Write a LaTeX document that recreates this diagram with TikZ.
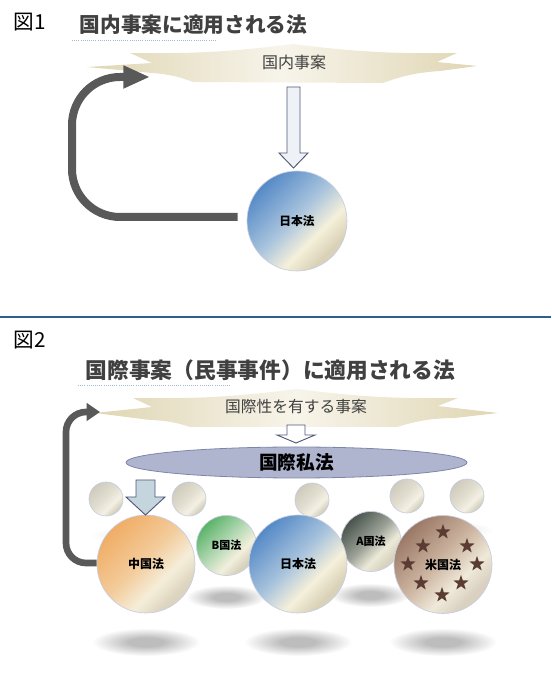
\documentclass[tikz,border=0pt]{standalone}
\usepackage{fontspec}
\setmainfont{Noto Sans CJK JP}
\usetikzlibrary{arrows.meta,shapes.geometric}

\definecolor{arrowgray}{HTML}{595959}
\definecolor{titlegray}{HTML}{404040}
\definecolor{rulecol}{HTML}{2D5F8F}
\definecolor{dotcol}{HTML}{A5B8CF}
\definecolor{bannerEdge}{HTML}{E0D6B4}
\definecolor{bannerMid}{HTML}{F7F4EA}
\definecolor{blockline}{HTML}{505878}
\definecolor{blockfill}{HTML}{EEF1F6}
\definecolor{blockblue}{HTML}{C5D5DE}
\definecolor{ballrim}{HTML}{C7CDE0}
\definecolor{starbrown}{HTML}{5A3C32}
\definecolor{lawrim}{HTML}{7D86AA}
\definecolor{shd}{HTML}{BDBDBD}
\definecolor{shdlight}{HTML}{EDEDED}

\definecolor{jpA}{HTML}{4A82C4}\definecolor{jpB}{HTML}{A9C4DD}
\definecolor{jpC}{HTML}{F5F0DA}\definecolor{jpD}{HTML}{DAD2B8}
\definecolor{cnA}{HTML}{F0A95E}\definecolor{cnB}{HTML}{F3CC9C}
\definecolor{cnC}{HTML}{F5EEDA}\definecolor{cnD}{HTML}{DCD4BE}
\definecolor{bbA}{HTML}{4FAE5F}\definecolor{bbB}{HTML}{B6DAB6}
\definecolor{bbC}{HTML}{F2EFDC}\definecolor{bbD}{HTML}{D8D2BC}
\definecolor{aaA}{HTML}{3F4A44}\definecolor{aaB}{HTML}{9AA095}
\definecolor{aaC}{HTML}{ECE9D8}\definecolor{aaD}{HTML}{D8D2BE}
\definecolor{usA}{HTML}{94705E}\definecolor{usB}{HTML}{CDB6A2}
\definecolor{usC}{HTML}{EFE9D9}\definecolor{usD}{HTML}{D9D0BF}
\definecolor{plA}{HTML}{CCC8BA}\definecolor{plB}{HTML}{E2DED0}
\definecolor{plC}{HTML}{F4F1E4}\definecolor{plD}{HTML}{D6D1BE}
\definecolor{lwA}{HTML}{969CBE}\definecolor{lwB}{HTML}{B0B5CF}
\definecolor{lwC}{HTML}{EDEFF6}\definecolor{lwD}{HTML}{A0A6C4}

\pgfdeclarehorizontalshading{japanball}{100bp}{color(0bp)=(jpA); color(22bp)=(jpA); color(48bp)=(jpB); color(62bp)=(jpC); color(72bp)=(jpD); color(100bp)=(jpD)}
\pgfdeclarehorizontalshading{chinaball}{100bp}{color(0bp)=(cnA); color(22bp)=(cnA); color(48bp)=(cnB); color(62bp)=(cnC); color(72bp)=(cnD); color(100bp)=(cnD)}
\pgfdeclarehorizontalshading{bball}{100bp}{color(0bp)=(bbA); color(22bp)=(bbA); color(48bp)=(bbB); color(62bp)=(bbC); color(72bp)=(bbD); color(100bp)=(bbD)}
\pgfdeclarehorizontalshading{aball}{100bp}{color(0bp)=(aaA); color(22bp)=(aaA); color(48bp)=(aaB); color(62bp)=(aaC); color(72bp)=(aaD); color(100bp)=(aaD)}
\pgfdeclarehorizontalshading{usball}{100bp}{color(0bp)=(usA); color(22bp)=(usA); color(48bp)=(usB); color(62bp)=(usC); color(72bp)=(usD); color(100bp)=(usD)}
\pgfdeclarehorizontalshading{paleball}{100bp}{color(0bp)=(plA); color(22bp)=(plA); color(48bp)=(plB); color(62bp)=(plC); color(72bp)=(plD); color(100bp)=(plD)}
\pgfdeclareverticalshading{lawdisc}{100bp}{color(0bp)=(lwD); color(25bp)=(lwB); color(78bp)=(lwB); color(85bp)=(lwC); color(90bp)=(lwB); color(100bp)=(lwA)}
\pgfdeclareradialshading{blurshadow}{\pgfpoint{0bp}{0bp}}{color(0bp)=(shd); color(8bp)=(shd); color(25bp)=(white); color(50bp)=(white)}
\pgfdeclareradialshading{blurlight}{\pgfpoint{0bp}{0bp}}{color(0bp)=(shdlight); color(8bp)=(shdlight); color(25bp)=(white); color(50bp)=(white)}

\tikzset{
  ball/.style={circle, draw=ballrim, line width=0.5pt, inner sep=0pt, shade, shading=#1, shading angle=-45, font=\bfseries\fontsize{9}{10}\selectfont},
  bigarrow/.style={draw=arrowgray, line width=6pt, rounded corners=36pt, -{Triangle[length=20pt,width=16pt]}},
  midarrow/.style={draw=arrowgray, line width=5pt, rounded corners=15pt, -{Triangle[length=10pt,width=13pt]}},
  blockarrow/.style={draw=blockline, line width=0.7pt, line join=miter},
  banner/.style={shade, left color=bannerEdge, right color=bannerEdge, middle color=bannerMid},
  fignum/.style={anchor=west, font=\fontsize{15.5}{18}\selectfont},
  heading/.style={anchor=west, text=titlegray, font=\bfseries\fontsize{15.5}{18}\selectfont},
  casetext/.style={text=titlegray, font=\fontsize{12}{14}\selectfont},
  starmark/.style={star, star points=5, star point ratio=2.5, minimum size=12pt, inner sep=0pt, fill=starbrown}
}

\begin{document}
\begin{tikzpicture}[x=0.75pt,y=0.75pt]
  \useasboundingbox (0,0) rectangle (551,689);

  \node[fignum] (fig1) at (9,667) {図1};
  \node[heading] (head1) at (75,664) {国内事案に適用される法};
  \draw[dotcol, densely dotted, line width=0.6pt] (72,649) -- (215,649);

  \path[banner] (87,622) -- (152,626) -- (130,636) to[bend right=4] (293,645)
    to[bend right=4] (457,636) -- (437,627) -- (477,623) -- (440,618)
    to[bend right=8] (383,606) -- (193,607) to[bend right=8] (152,616) -- cycle;
  \node[casetext] (case1) at (294,627) {国内事案};

  \draw[blockarrow, fill=blockfill] (287,602) -- (300,602) -- (300,536) -- (308,536)
    -- (293.5,521) -- (279,536) -- (287,536) -- cycle;

  \node[ball=japanball, minimum size=75pt, font=\bfseries\fontsize{8.8}{10}\selectfont] (jpa) at (297,468) {日本法};

  \coordinate (bend1) at (72,612);
  \coordinate (tip1) at (150,612);
  \draw[bigarrow] ([xshift=-6.75pt,yshift=3pt]jpa.west) -| (bend1) -- (tip1);

  \draw[rulecol, line width=1.5pt] (0,372) -- (551,372);

  \node[fignum] (fig2) at (9,349) {図2};
  \node[heading, font=\bfseries\fontsize{16.3}{19}\selectfont] (head2) at (81,319) {国際事案（民事事件）に適用される法};
  \draw[dotcol, densely dotted, line width=0.6pt] (78,304) -- (230,304);

  \path[banner] (95,276) -- (152,282) -- (133,291) to[bend right=4] (297,300)
    to[bend right=4] (458,291) -- (438,283) -- (498,276) -- (455,271)
    to[bend right=8] (397,262) -- (190,262) to[bend right=8] (150,269) -- cycle;
  \node[casetext, font=\fontsize{11.8}{14}\selectfont] (case2) at (296,282) {国際性を有する事案};

  \draw[blockarrow, fill=white] (287,264) -- (305,264) -- (305,254) -- (315,254)
    -- (296,246) -- (277,254) -- (287,254) -- cycle;

  \node[ellipse, draw=lawrim, line width=0.6pt, shade, shading=lawdisc, minimum width=255.75pt,
    minimum height=23.25pt, inner sep=0pt, font=\bfseries\fontsize{14}{16}\selectfont] (pil) at (296.5,226.5) {国際私法};

  \path[shade, shading=blurlight] (145,154) ellipse [x radius=56, y radius=9];
  \path[shade, shading=blurlight] (450,159) ellipse [x radius=44, y radius=9];
  \path[shade, shading=blurshadow] (146,47) ellipse [x radius=54, y radius=14];
  \path[shade, shading=blurshadow] (298,47) ellipse [x radius=54, y radius=14];
  \path[shade, shading=blurshadow] (443,47) ellipse [x radius=54, y radius=14];
  \path[shade, shading=blurshadow] (226,92) ellipse [x radius=40, y radius=12];
  \path[shade, shading=blurshadow] (370,94) ellipse [x radius=40, y radius=12];

  \node[ball=paleball, minimum size=25.5pt] (pa) at (106,190) {};
  \node[ball=paleball, minimum size=25.5pt] (pb) at (189,190) {};
  \node[ball=paleball, minimum size=25.5pt] (pc) at (312,189) {};
  \node[ball=paleball, minimum size=25.5pt] (pd) at (407,193) {};
  \node[ball=paleball, minimum size=25.5pt] (pe) at (467,193) {};

  \node[ball=bball, minimum size=45pt, font=\bfseries\fontsize{8.3}{10}\selectfont] (bb) at (226.5,143.5) {B国法};
  \node[ball=aball, minimum size=45pt, font=\bfseries\fontsize{8.3}{10}\selectfont] (aa) at (371,147.5) {A国法};
  \node[ball=chinaball, minimum size=73.5pt] (cn) at (146,125) {中国法};
  \node[ball=japanball, minimum size=73.5pt] (jpb) at (298,125) {日本法};
  \node[ball=usball, minimum size=73.5pt] (us) at (443,124.5) {米国法};

  \coordinate (bend2) at (66,277);
  \coordinate (tip2) at (100,277);
  \draw[midarrow] ([yshift=0.75pt]cn.west) -| (bend2) -- (tip2);

  \node[starmark] (s1) at (443,157) {};
  \node[starmark] (s2) at (423,143) {};
  \node[starmark] (s3) at (467,143) {};
  \node[starmark] (s4) at (408,125) {};
  \node[starmark] (s5) at (477,125) {};
  \node[starmark] (s6) at (421,106) {};
  \node[starmark] (s7) at (461,106) {};
  \node[starmark] (s8) at (442,94) {};

  \draw[blockarrow, fill=blockblue] (136,209) -- (155,209) -- (155,192) -- (165,192)
    -- (145.5,174) -- (126,192) -- (136,192) -- cycle;
\end{tikzpicture}
\end{document}
